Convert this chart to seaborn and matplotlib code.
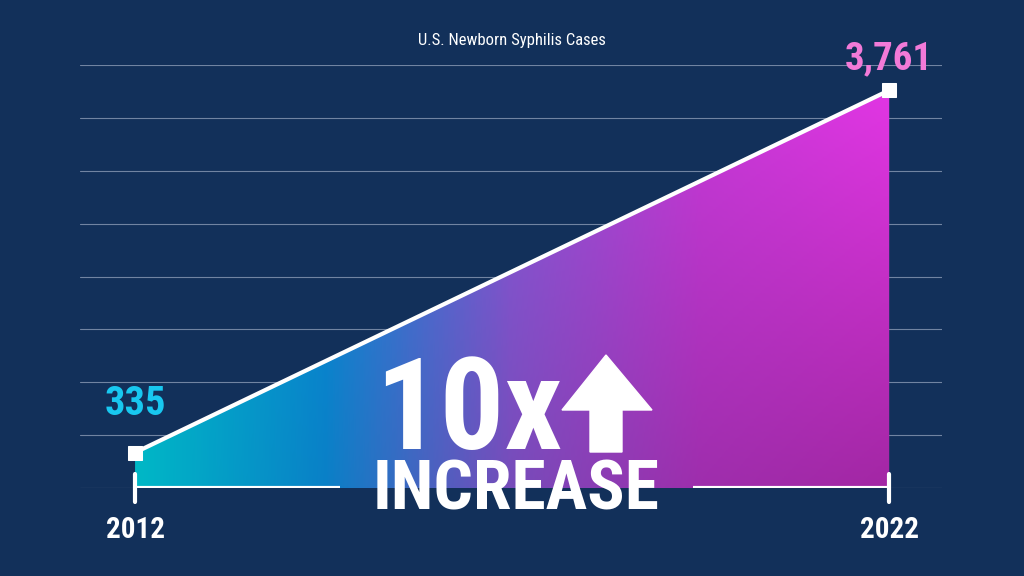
import numpy as np
import pandas as pd
import matplotlib
matplotlib.use("Agg")
import matplotlib.pyplot as plt
import seaborn as sns
from matplotlib.colors import LinearSegmentedColormap
from matplotlib.patches import Polygon

years = [2012, 2022]
cases = [335, 3761]
grid_values = [0, 500, 1000, 1500, 2000, 2500, 3000, 3500, 4000]
title = "U.S. Newborn Syphilis Cases"

BG = "#12305a"
FONT = ["Roboto Condensed", "Liberation Sans Narrow", "Roboto", "DejaVu Sans"]

sns.set_theme(style="white")
plt.rcParams["font.family"] = FONT

fig = plt.figure(figsize=(10.24, 5.76), dpi=100, facecolor=BG)
ax = fig.add_axes([80 / 1024, 88 / 576, 862 / 1024, 423 / 576])
ax.set_facecolor(BG)
ax.set_xlim(2011.27, 2022.70)
ax.set_ylim(0, 4000)
ax.axis("off")

for g in grid_values:
    ax.axhline(g, color="#8a9ab5", lw=0.8, alpha=0.8, zorder=1)

# gradient fill under the line
cmap = LinearSegmentedColormap.from_list(
    "grad", ["#00b8c6", "#0a8ad6", "#8a58d8", "#c83ada", "#e236e4"])
xs = np.linspace(0, 1, 400)
ys = np.linspace(0, 1, 200)
rgb = cmap(xs)[None, :, :3].repeat(len(ys), axis=0)
shade = (0.72 + 0.28 * ys)[:, None, None]
dark = 1 - (1 - shade) * xs[None, :, None]
img = rgb * dark
im = ax.imshow(img, extent=[years[0], years[1], 0, cases[1]], origin="lower",
               aspect="auto", zorder=2)
poly = Polygon([[years[0], 0], [years[0], cases[0]], [years[1], cases[1]], [years[1], 0]],
               closed=True, transform=ax.transData)
im.set_clip_path(poly)

df = pd.DataFrame({"year": years, "cases": cases})
sns.lineplot(data=df, x="year", y="cases", color="white", lw=3, ax=ax, zorder=4,
             marker="s", markersize=10, markeredgecolor="white", legend=False)
for ln in ax.lines[-1:]:
    ln.set_clip_on(False)

# baseline axis segments with end ticks
ax.plot([2012, 2014.72], [0, 0], color="white", lw=3, zorder=5, solid_capstyle="butt")
ax.plot([2019.4, 2022], [0, 0], color="white", lw=3, zorder=5, solid_capstyle="butt")
for y in years:
    ax.plot([y, y], [-130, 130], color="white", lw=3, zorder=5, clip_on=False)

ax.text(2012, -400, str(years[0]), color="white", fontsize=21, fontweight="bold",
        ha="center", va="center")
ax.text(2022, -400, str(years[1]), color="white", fontsize=21, fontweight="bold",
        ha="center", va="center")
ax.text(2012, 790, f"{cases[0]:,}", color="#18c8f0", fontsize=29, fontweight="bold",
        ha="center", va="center")
ax.text(2022, 4060, f"{cases[1]:,}", color="#f27ad8", fontsize=28, fontweight="bold",
        ha="center", va="center")

fig.text(512 / 1024, 1 - 41 / 576, title, color="white", fontsize=12,
         ha="center", va="center")

# big callout
fig.text(469 / 1024, 1 - 449 / 576, "10x", color="white", fontsize=92, fontweight="bold",
         ha="center", va="baseline")
fig.text(516 / 1024, 1 - 510 / 576, "INCREASE", color="white", fontsize=50,
         fontweight="bold", ha="center", va="baseline")
arrow = [(606, 355), (652, 410), (622, 410), (622, 452), (590, 452), (590, 410), (562, 410)]
arrow = [(x / 1024, 1 - y / 576) for x, y in arrow]
fig.patches.append(Polygon(arrow, closed=True, color="white", transform=fig.transFigure))

fig.savefig("out.png", dpi=100, facecolor=BG)
